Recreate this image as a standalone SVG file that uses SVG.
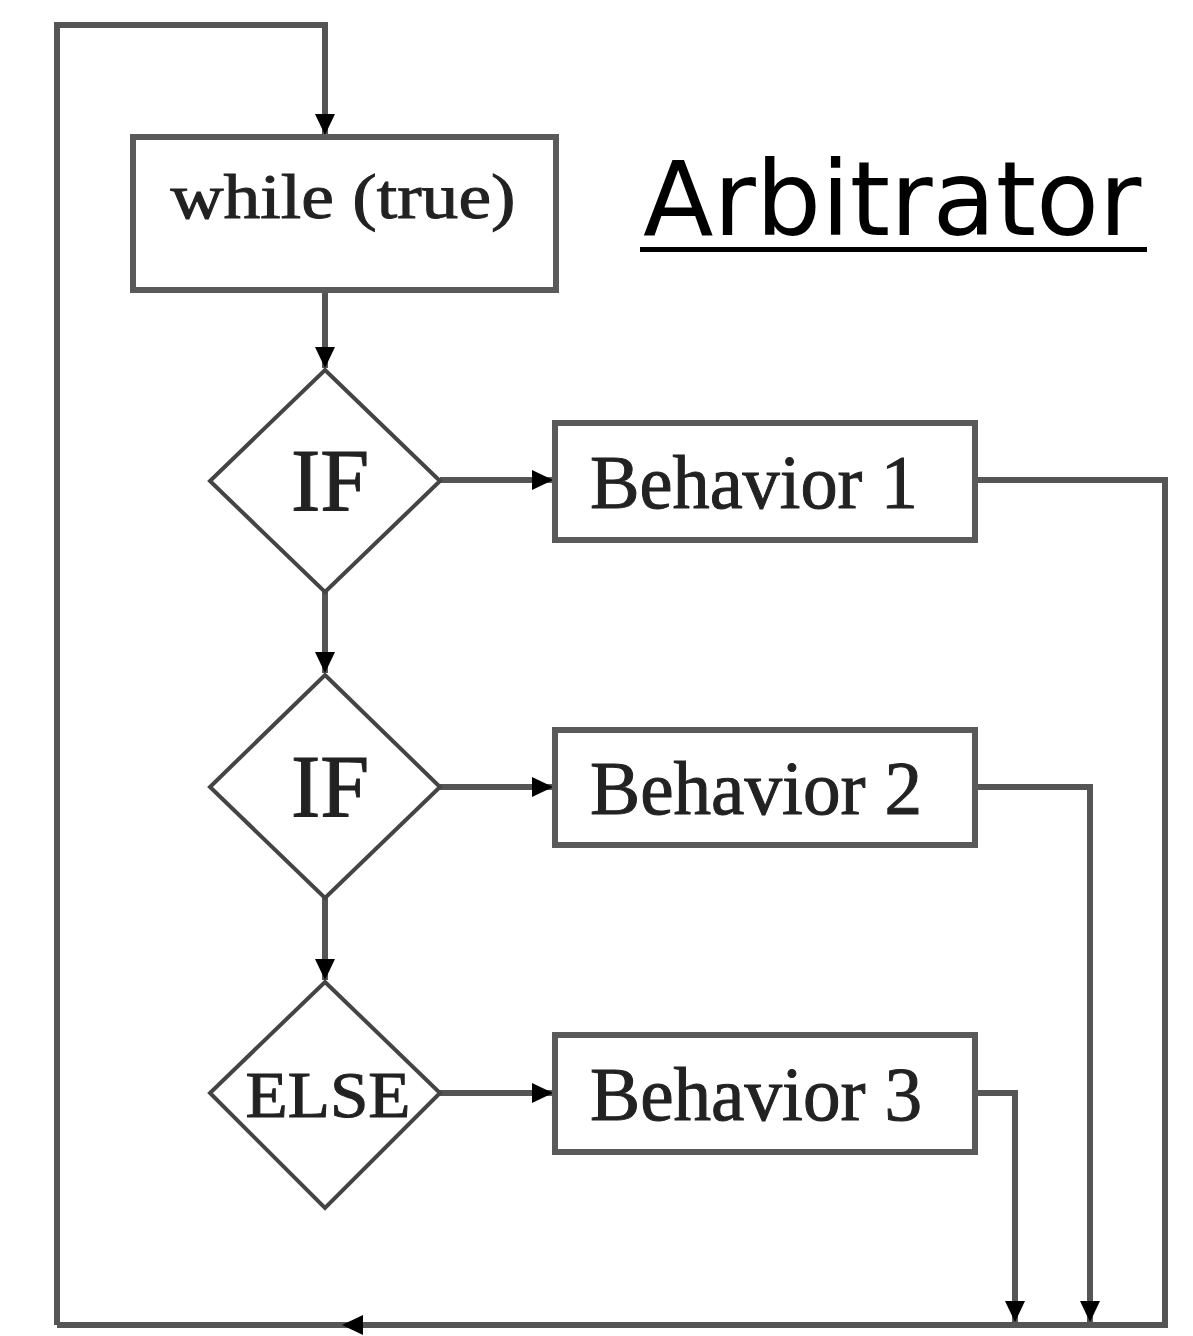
<svg xmlns="http://www.w3.org/2000/svg" width="1193" height="1336" viewBox="0 0 1193 1336">
<style>
.box{fill:#fff;stroke:#5a5a5a;stroke-width:6}
.dia{fill:#fff;stroke:#444;stroke-width:4}
.ln{fill:none;stroke:#555;stroke-width:6}
.serif{font-family:"Liberation Serif","Times New Roman",serif;fill:#222;stroke:#222;stroke-width:1}
.sans{font-family:"DejaVu Sans",sans-serif;fill:#000}
</style>
<defs>
<marker id="ah" markerUnits="userSpaceOnUse" markerWidth="26" markerHeight="26" viewBox="0 0 26 26" refX="24" refY="13" orient="auto">
<path d="M3,3 L24,13 L3,23 Z" fill="#000"/>
</marker>
</defs>
<rect width="1193" height="1336" fill="#fff"/>
<g id="connectors">
<path class="ln" d="M57,1325 V25 H325 V135" marker-end="url(#ah)"/>
<path class="ln" d="M325,290 V368" marker-end="url(#ah)"/>
<path class="ln" d="M325,592 V673" marker-end="url(#ah)"/>
<path class="ln" d="M325,898 V980" marker-end="url(#ah)"/>
<path class="ln" d="M440,480 H553" marker-end="url(#ah)"/>
<path class="ln" d="M440,787 H553" marker-end="url(#ah)"/>
<path class="ln" d="M440,1093 H553" marker-end="url(#ah)"/>
<path class="ln" d="M975,480 H1165 V1325 H342" marker-end="url(#ah)"/>
<path class="ln" d="M342,1325 H57"/>
<path class="ln" d="M975,787 H1090 V1322" marker-end="url(#ah)"/>
<path class="ln" d="M975,1093 H1015 V1322" marker-end="url(#ah)"/>
</g>
<g id="while">
<rect class="box" x="133" y="137" width="423" height="153"/>
<text class="serif" x="343" y="218" font-size="64" text-anchor="middle" textLength="345" lengthAdjust="spacingAndGlyphs">while (true)</text>
</g>
<g id="if1">
<polygon class="dia" points="325,370 440,481 325,592 210,481"/>
<text class="serif" x="330" y="510" font-size="88" text-anchor="middle">IF</text>
</g>
<g id="if2">
<polygon class="dia" points="325,675 440,787 325,898 210,787"/>
<text class="serif" x="330" y="816" font-size="88" text-anchor="middle">IF</text>
</g>
<g id="else">
<polygon class="dia" points="325,982 440,1093 325,1208 210,1093"/>
<text class="serif" x="328" y="1117" font-size="66" text-anchor="middle" textLength="165" lengthAdjust="spacingAndGlyphs">ELSE</text>
</g>
<g id="b1">
<rect class="box" x="555" y="423" width="420" height="117"/>
<text class="serif" x="590" y="508" font-size="76" textLength="328" lengthAdjust="spacingAndGlyphs">Behavior 1</text>
</g>
<g id="b2">
<rect class="box" x="555" y="730" width="420" height="115"/>
<text class="serif" x="590" y="814" font-size="76" textLength="332" lengthAdjust="spacingAndGlyphs">Behavior 2</text>
</g>
<g id="b3">
<rect class="box" x="555" y="1035" width="420" height="117"/>
<text class="serif" x="590" y="1120" font-size="76" textLength="332" lengthAdjust="spacingAndGlyphs">Behavior 3</text>
</g>
<g id="title">
<text class="sans" x="643" y="235" font-size="103">Arbitrator</text>
<rect x="640" y="247" width="507" height="5" fill="#000"/>
</g>
</svg>
